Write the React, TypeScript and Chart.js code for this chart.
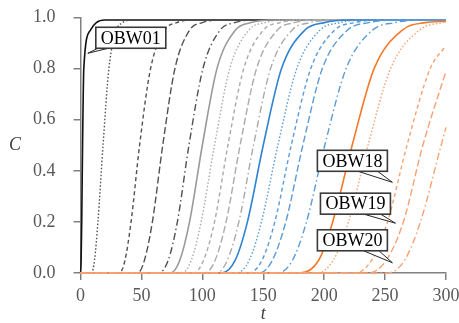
import React, { useEffect, useRef } from "react";
import { Chart, registerables } from "chart.js";

Chart.register(...registerables);

// Concentration levels at which the breakthrough times were read (first = start of breakthrough)
const C_LEVELS = [0, 0.05, 0.2, 0.5, 0.8, 0.95, 0.98, 0.99];

// Times (t) at which each well's curve reaches C_LEVELS
const OBW01 = [0, 0.5, 1.0, 1.7, 2.7, 8, 13, 20];
const OBW02 = [9, 11.5, 14.3, 18.5, 23.3, 29.5, 34.5, 41];
const OBW03 = [32, 36.5, 41.5, 48.5, 57.5, 69, 79, 90];
const OBW04 = [47, 52.5, 59, 67.5, 77.5, 89.5, 100, 113];
const OBW05 = [64, 72, 79.5, 89, 100.5, 114.5, 126.5, 141.5];
const OBW06 = [74, 81.5, 89.5, 100, 112, 127, 140, 156];
const OBW07 = [83, 91, 99, 110, 122.5, 138, 151.5, 168];
const OBW08 = [93, 101, 110, 121, 134, 150, 164, 181];
const OBW09 = [102, 110.5, 119.5, 131, 144.5, 161.5, 175.5, 193];
const OBW10 = [112, 120.5, 130, 142, 156, 173.5, 188.5, 207];
const OBW11 = [116, 127, 137, 150, 165, 184, 200, 220];
const OBW12 = [128, 138.5, 148.5, 162, 177.5, 196.5, 213, 233];
const OBW13 = [138, 149, 159.5, 173, 189, 208.5, 225.5, 246.5];
const OBW14 = [147, 157.5, 168.5, 182.5, 198.5, 219, 236.5, 258];
const OBW15 = [162, 174, 185.5, 200.5, 218, 239.5, 258, 281];
const OBW16 = [180, 195.5, 207, 223, 241, 264, 283];
const OBW17 = [194, 207.5, 220, 236, 254.5, 278, 297.5];
const OBW18 = [225, 239, 252, 268, 287];
const OBW19 = [236, 251, 265, 281];
const OBW20 = [252, 266, 279, 296];

const WELL_NAMES = [
  "OBW01", "OBW02", "OBW03", "OBW04", "OBW05",
  "OBW06", "OBW07", "OBW08", "OBW09", "OBW10",
  "OBW11", "OBW12", "OBW13", "OBW14", "OBW15",
  "OBW16", "OBW17", "OBW18", "OBW19", "OBW20",
];
const WELL_TIMES = [
  OBW01, OBW02, OBW03, OBW04, OBW05, OBW06, OBW07, OBW08, OBW09, OBW10,
  OBW11, OBW12, OBW13, OBW14, OBW15, OBW16, OBW17, OBW18, OBW19, OBW20,
];
// C value at the end of the record (t = 300)
const C_AT_END = [
  0.99, 0.99, 0.99, 0.99, 0.99, 0.99, 0.99, 0.99, 0.99, 0.99,
  0.99, 0.99, 0.99, 0.99, 0.99, 0.985, 0.981, 0.89, 0.79, 0.57,
];

const T_MAX = 300;
const X_TICKS = [0, 50, 100, 150, 200, 250, 300];
const Y_TICKS = [0, 0.2, 0.4, 0.6, 0.8, 1.0];

// Callouts: label and the point (t, C) their pointer touches
const CALLOUT_LABELS = ["OBW01", "OBW18", "OBW19", "OBW20"];
const CALLOUT_T = [6, 256, 258.5, 256];
const CALLOUT_C = [0.86, 0.355, 0.195, 0.04];

// ---- styles (not data) ----
const CALLOUT_STYLE = [
  { dx: 8, dy: -26, a: 0.03, b: 0.18 },
  { dx: -75, dy: -32, a: 0.58, b: 0.86 },
  { dx: -75, dy: -30, a: 0.62, b: 0.86 },
  { dx: -75, dy: -33, a: 0.66, b: 0.88 },
];
const FAMILY_COLORS = [
  ["#111111", "#505050", "#505050", "#505050", "#505050"],
  ["#9a9a9a", "#aaaaaa", "#aaaaaa", "#aaaaaa", "#aaaaaa"],
  ["#2f82d4", "#5b9bd5", "#5b9bd5", "#5b9bd5", "#5b9bd5"],
  ["#f47a2a", "#f6a273", "#f6a273", "#f6a273", "#f6a273"],
];
const DASHES = [[], [1.5, 2], [4, 3], [7, 3], [7, 3, 1.5, 3]];
const SERIF = '"Liberation Serif", "Times New Roman", serif';

const overlayPlugin = {
  id: "overlay",
  afterDatasetsDraw(chart: any) {
    const { ctx, scales } = chart;
    const x = scales.x;
    const y = scales.y;
    ctx.save();
    ctx.font = `18px ${SERIF}`;
    CALLOUT_LABELS.forEach((label, i) => {
      const tx = x.getPixelForValue(CALLOUT_T[i]);
      const ty = y.getPixelForValue(CALLOUT_C[i]);
      const st = CALLOUT_STYLE[i];
      const w = ctx.measureText(label).width + 10;
      const h = 21;
      const bx = tx + st.dx;
      const by = ty + st.dy;
      const ax = bx + st.a * w;
      const bx2 = bx + st.b * w;
      ctx.beginPath();
      ctx.moveTo(ax, by + h);
      ctx.lineTo(tx, ty);
      ctx.lineTo(bx2, by + h);
      ctx.closePath();
      ctx.fillStyle = "#ffffff";
      ctx.fill();
      ctx.beginPath();
      ctx.moveTo(ax, by + h);
      ctx.lineTo(tx, ty);
      ctx.lineTo(bx2, by + h);
      ctx.strokeStyle = "#262626";
      ctx.lineWidth = 1;
      ctx.stroke();
      ctx.fillStyle = "#ffffff";
      ctx.fillRect(bx, by, w, h);
      ctx.strokeStyle = "#3a3a3a";
      ctx.lineWidth = 1.6;
      ctx.strokeRect(bx, by, w, h);
      ctx.fillStyle = "#000000";
      ctx.textAlign = "center";
      ctx.textBaseline = "middle";
      ctx.fillText(label, bx + w / 2, by + h / 2 + 1);
    });
    ctx.font = `italic 18px ${SERIF}`;
    ctx.fillStyle = "#404040";
    ctx.textAlign = "center";
    ctx.textBaseline = "middle";
    ctx.fillText("C", 15, (y.top + y.bottom) / 2);
    ctx.fillText("t", (x.left + x.right) / 2, 314);
    ctx.restore();
  },
};

function buildPoints(times: number[], endC: number) {
  const pts: { x: number; y: number }[] = [{ x: 0, y: 0 }];
  times.forEach((t, k) => {
    if (t < T_MAX) pts.push({ x: t, y: C_LEVELS[k] });
  });
  pts.push({ x: T_MAX, y: endC });
  return pts;
}

export default function App() {
  const ref = useRef<HTMLCanvasElement | null>(null);
  useEffect(() => {
    if (!ref.current) return;
    const n = WELL_NAMES.length;
    const datasets = WELL_NAMES.map((name, i) => {
      const fam = Math.floor(i / 5);
      const k = i % 5;
      return {
        label: name,
        data: buildPoints(WELL_TIMES[i], C_AT_END[i]),
        borderColor: FAMILY_COLORS[fam][k],
        borderWidth: k === 0 ? 1.6 : 1.4,
        borderDash: DASHES[k],
        pointRadius: 0,
        fill: false,
        cubicInterpolationMode: "monotone" as const,
        clip: false as any,
        order: n - i,
      };
    });
    const axisColor = "#808080";
    const chart = new Chart(ref.current, {
      type: "line",
      data: { datasets },
      plugins: [overlayPlugin],
      options: {
        animation: false,
        responsive: false,
        devicePixelRatio: 1,
        layout: { padding: { top: 17.5, right: 13, left: 0, bottom: 0 } },
        plugins: { legend: { display: false }, tooltip: { enabled: false } },
        scales: {
          x: {
            type: "linear",
            min: 0,
            max: T_MAX,
            afterBuildTicks: (s: any) => {
              s.ticks = X_TICKS.map((v) => ({ value: v }));
            },
            afterFit: (s: any) => {
              s.height = 50;
              s.paddingLeft = 0;
              s.paddingRight = 0;
            },
            ticks: {
              color: "#595959",
              font: { family: SERIF, size: 18 },
              padding: 5,
              maxRotation: 0,
              autoSkip: false,
            },
            grid: {
              drawOnChartArea: false,
              drawTicks: true,
              tickLength: 7,
              color: axisColor,
              lineWidth: 1.5,
            },
            border: { display: true, color: axisColor, width: 1.5 },
          },
          y: {
            type: "linear",
            min: 0,
            max: 1,
            afterBuildTicks: (s: any) => {
              s.ticks = Y_TICKS.map((v) => ({ value: v }));
            },
            afterFit: (s: any) => {
              s.width = 80.5;
              s.paddingTop = 0;
              s.paddingBottom = 0;
            },
            ticks: {
              color: "#595959",
              font: { family: SERIF, size: 18 },
              padding: 18,
              autoSkip: false,
              callback: (v: any) => Number(v).toFixed(1),
            },
            grid: {
              drawOnChartArea: false,
              drawTicks: true,
              tickLength: 7,
              color: axisColor,
              lineWidth: 1.5,
            },
            border: { display: true, color: axisColor, width: 1.5 },
          },
        },
      },
    });
    return () => chart.destroy();
  }, []);
  return (
    <div style={{ position: "fixed", left: 0, top: 0, width: 459, height: 323, background: "#fff" }}>
      <canvas ref={ref} width={459} height={323} style={{ width: 459, height: 323, display: "block" }} />
    </div>
  );
}
